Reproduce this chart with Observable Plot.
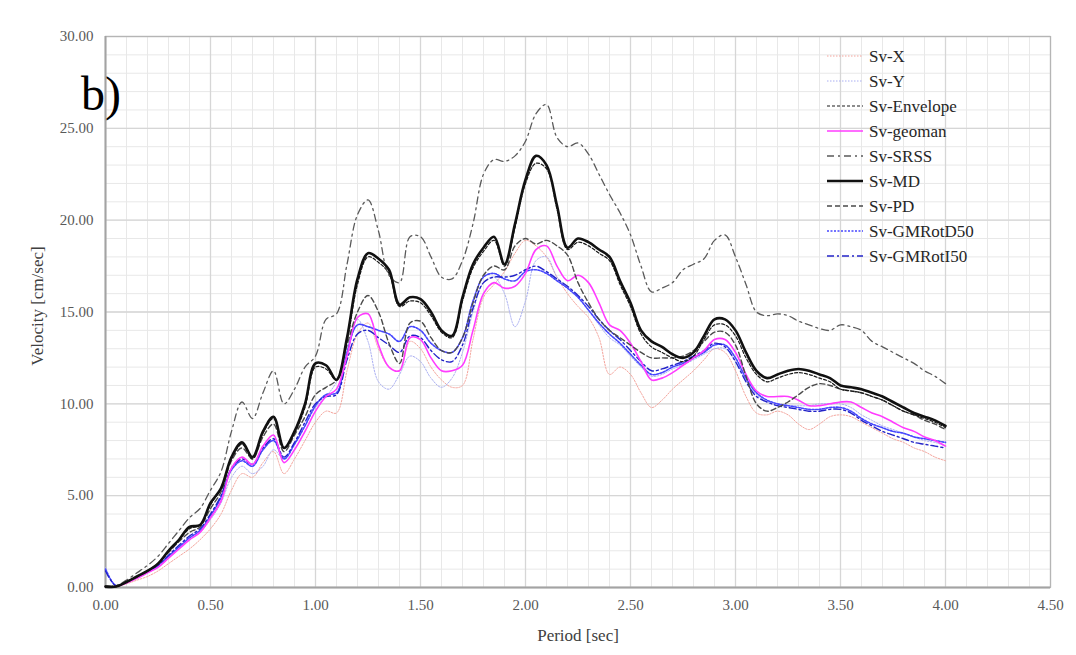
<!DOCTYPE html>
<html><head><meta charset="utf-8">
<script src="https://cdn.jsdelivr.net/npm/d3@7"></script>
<script src="https://cdn.jsdelivr.net/npm/@observablehq/plot@0.6"></script>
<style>
body{margin:0;background:#fff;}
#wrap{position:relative;width:1076px;height:655px;overflow:hidden;}
#overlay{position:absolute;left:0;top:0;pointer-events:none;}
</style></head><body><div id="wrap"></div>
<script>
// Periods (sec)
const period = [
 0.00,0.05,0.10,0.15,0.20,0.25,0.30,0.35,0.40,0.45,
 0.50,0.55,0.60,0.65,0.70,0.75,0.80,0.85,0.90,0.95,
 1.00,1.05,1.10,1.15,1.20,1.25,1.30,1.35,1.40,1.45,
 1.50,1.55,1.60,1.65,1.70,1.75,1.80,1.85,1.90,1.95,
 2.00,2.05,2.10,2.15,2.20,2.25,2.30,2.35,2.40,2.45,
 2.50,2.55,2.60,2.65,2.70,2.75,2.80,2.85,2.90,2.95,
 3.00,3.05,3.10,3.15,3.20,3.25,3.30,3.35,3.40,3.45,
 3.50,3.55,3.60,3.65,3.70,3.75,3.80,3.85,3.90,3.95,
 4.00];

const svX = [
 0.0,0.05,0.2,0.4,0.6,0.9,1.3,1.7,2.1,2.6,
 3.2,4.0,5.3,6.2,6.0,6.8,7.4,6.2,7.0,8.0,
 9.0,9.6,9.5,11.8,13.8,14.4,13.0,12.0,11.8,13.4,
 13.0,12.0,11.3,10.9,11.0,13.5,15.8,16.5,17.2,18.2,
 18.9,18.6,18.0,16.9,16.0,15.3,14.7,13.6,11.6,12.0,
 11.6,10.6,9.8,10.2,10.8,11.3,11.8,12.4,13.0,12.8,
 11.8,10.4,9.5,9.4,9.6,9.4,8.9,8.6,8.9,9.3,
 9.4,9.3,9.0,8.7,8.4,8.1,7.9,7.6,7.4,7.1,
 6.9];

const svY = [
 1.1,0.1,0.3,0.5,0.8,1.1,1.6,2.1,2.6,3.0,
 3.7,4.6,6.0,6.6,6.2,6.6,7.5,7.0,7.8,8.8,
 9.8,10.4,11.2,13.0,14.6,13.4,11.2,10.8,11.6,12.6,
 12.3,11.4,10.9,11.4,12.8,15.0,16.6,16.9,16.0,14.2,
 15.6,17.8,18.0,16.9,16.3,15.8,15.1,14.3,13.6,13.2,
 12.6,12.0,11.5,11.6,11.9,12.1,12.4,12.7,13.0,13.0,
 12.3,11.3,10.5,10.1,9.9,9.9,9.9,9.9,10.0,10.0,
 10.0,9.8,9.4,9.1,8.8,8.6,8.4,8.2,8.0,7.9,
 7.7];

const svEnvelope = [
 0.05,0.05,0.3,0.6,0.9,1.3,2.0,2.6,3.2,3.4,
 4.5,5.4,7.0,7.8,7.0,8.4,9.2,7.6,8.4,9.8,
 12.0,11.9,11.3,13.4,16.5,18.0,17.7,17.1,15.3,15.6,
 15.5,14.8,13.9,13.6,15.6,17.4,18.3,18.9,17.5,19.6,
 22.0,23.1,22.8,20.6,18.4,18.8,18.6,18.2,17.8,16.5,
 15.3,13.8,13.1,12.8,12.5,12.3,12.6,13.5,14.3,14.3,
 13.7,12.5,11.6,11.2,11.4,11.6,11.7,11.6,11.4,11.2,
 10.8,10.7,10.6,10.4,10.2,9.9,9.6,9.4,9.2,9.0,
 8.7];

const svGeoman = [
 0.05,0.05,0.25,0.5,0.8,1.1,1.6,2.1,2.6,3.0,
 3.8,4.7,6.5,7.1,6.7,7.7,8.3,6.8,7.5,8.5,
 9.6,10.4,10.8,12.6,14.7,14.9,13.2,12.0,11.8,13.6,
 13.5,12.5,11.8,11.8,12.1,14.0,16.0,16.6,16.3,16.4,
 17.1,18.4,18.6,17.5,16.7,17.0,16.6,15.5,14.3,14.0,
 13.3,12.3,11.3,11.4,11.7,12.1,12.5,12.9,13.5,13.5,
 12.8,11.6,10.7,10.4,10.4,10.4,10.2,9.9,9.9,10.0,
 10.1,10.1,9.8,9.5,9.3,9.0,8.7,8.5,8.2,8.0,
 7.7];

const svSRSS = [
 0.1,0.1,0.4,0.8,1.2,1.7,2.4,3.1,3.8,4.3,
 5.3,6.3,8.5,10.1,9.2,10.6,11.8,10.0,10.8,12.0,
 12.6,14.6,14.9,17.6,20.3,21.1,19.4,17.0,16.6,19.1,
 19.1,18.0,16.9,16.8,17.8,19.8,22.5,23.3,23.2,23.5,
 24.3,25.8,26.3,24.5,24.0,24.2,23.6,22.5,21.4,20.4,
 19.2,17.5,16.1,16.3,16.6,17.3,17.6,17.9,18.9,19.2,
 18.0,16.5,15.0,14.8,14.9,14.8,14.5,14.3,14.1,14.0,
 14.3,14.2,14.0,13.4,13.1,12.8,12.5,12.2,11.8,11.5,
 11.1];

const svMD = [
 0.05,0.05,0.3,0.6,0.9,1.3,2.0,2.6,3.3,3.4,
 4.6,5.4,7.1,7.9,7.1,8.5,9.3,7.6,8.5,10.0,
 12.2,12.1,11.3,13.6,16.8,18.2,17.9,17.3,15.4,15.8,
 15.7,15.0,14.0,13.7,15.8,17.6,18.5,19.1,17.6,19.8,
 22.2,23.5,23.0,20.8,18.5,19.0,18.8,18.4,18.0,16.7,
 15.5,14.0,13.4,13.1,12.7,12.5,12.8,13.7,14.6,14.6,
 14.0,12.8,11.8,11.4,11.6,11.8,11.9,11.8,11.6,11.4,
 11.0,10.9,10.8,10.6,10.4,10.1,9.8,9.5,9.3,9.1,
 8.8];

const svPD = [
 0.05,0.05,0.3,0.6,0.9,1.3,1.9,2.5,3.0,3.3,
 4.3,5.2,6.9,7.6,7.0,8.2,8.9,7.4,8.3,9.3,
 10.5,10.9,11.3,13.2,15.0,15.9,15.0,13.3,12.2,14.4,
 14.5,13.6,12.9,12.8,13.6,15.5,17.0,17.5,17.3,18.6,
 19.0,18.7,18.9,18.6,18.1,16.6,15.5,14.6,14.0,13.6,
 13.2,12.8,12.5,12.5,12.5,12.6,12.9,13.4,13.9,13.9,
 13.2,11.5,10.0,9.6,9.8,10.1,10.5,10.9,11.1,11.0,
 10.8,10.7,10.6,10.4,10.2,9.9,9.6,9.4,9.1,8.9,
 8.6];

const svGMRotD50 = [
 1.0,0.1,0.3,0.55,0.85,1.2,1.7,2.2,2.7,3.1,
 3.9,4.9,6.4,6.9,6.6,7.5,8.0,7.0,7.8,8.8,
 9.9,10.5,10.6,12.8,14.3,14.2,14.0,13.8,13.4,14.2,
 14.0,13.3,12.9,12.8,13.6,15.6,16.9,17.1,16.8,16.7,
 17.2,17.3,17.1,16.7,16.3,15.8,15.1,14.4,13.8,13.3,
 12.7,12.1,11.6,11.7,12.0,12.2,12.5,12.8,13.2,13.2,
 12.5,11.4,10.6,10.2,10.0,9.9,9.8,9.7,9.7,9.8,
 9.8,9.6,9.2,8.9,8.7,8.5,8.4,8.2,8.1,8.0,
 7.9];

const svGMRotI50 = [
 0.9,0.1,0.3,0.55,0.85,1.2,1.75,2.3,2.8,3.2,
 4.0,5.0,6.5,7.0,6.7,7.6,8.1,7.1,7.9,9.0,
 10.0,10.4,10.5,12.4,13.8,14.0,13.6,13.2,12.8,13.7,
 13.6,12.9,12.4,12.3,13.2,15.2,16.6,16.9,16.9,17.0,
 17.3,17.5,17.2,16.8,16.4,15.9,15.3,14.6,14.0,13.5,
 12.9,12.3,11.8,11.9,12.1,12.3,12.6,12.9,13.3,13.1,
 12.3,11.2,10.4,10.1,9.9,9.8,9.7,9.6,9.6,9.7,
 9.7,9.5,9.1,8.8,8.5,8.3,8.1,7.9,7.8,7.7,
 7.6];

const xTicks = [0,0.5,1,1.5,2,2.5,3,3.5,4,4.5];
const yTicks = [0,5,10,15,20,25,30];
const legendNames = ["Sv-X","Sv-Y","Sv-Envelope","Sv-geoman","Sv-SRSS","Sv-MD","Sv-PD","Sv-GMRotD50","Sv-GMRotI50"];

const styles = {
  "Sv-X":        {values: svX,        stroke:"#f4a49c", width:1,   dash:"1.5,1.5"},
  "Sv-Y":        {values: svY,        stroke:"#a9aef2", width:1,   dash:"1.5,1.5"},
  "Sv-Envelope": {values: svEnvelope, stroke:"#1a1a1a", width:1.2, dash:"3,2"},
  "Sv-geoman":   {values: svGeoman,   stroke:"#ff3cff", width:1.6, dash:null},
  "Sv-SRSS":     {values: svSRSS,     stroke:"#5a5a5a", width:1.3, dash:"7,4,2,4"},
  "Sv-MD":       {values: svMD,       stroke:"#111111", width:2.6, dash:null},
  "Sv-PD":       {values: svPD,       stroke:"#4a4a4a", width:1.4, dash:"5,3"},
  "Sv-GMRotD50": {values: svGMRotD50, stroke:"#4646ff", width:1.6, dash:"2,1.5"},
  "Sv-GMRotI50": {values: svGMRotI50, stroke:"#2323c8", width:1.4, dash:"7,3,2,3"}
};
const drawOrder = ["Sv-X","Sv-Y","Sv-GMRotD50","Sv-GMRotI50","Sv-geoman","Sv-PD","Sv-Envelope","Sv-SRSS","Sv-MD"];

const rows = legendNames.flatMap(name => period.map((p,i) => ({series:name, period:p, v:styles[name].values[i]})));

const xMinor = d3.range(0, 4.5001, 0.1);
const yMinor = d3.range(0, 30.001, 1);

const chart = Plot.plot({
  width: 1076, height: 655,
  marginLeft: 105, marginRight: 26, marginTop: 36, marginBottom: 68,
  style: {fontFamily: "Liberation Serif", fontSize: "15px", color: "#595959", background: "#fff"},
  x: {domain: [0, 4.5]},
  y: {domain: [0, 30]},
  marks: [
    Plot.gridX(xMinor, {stroke:"#e8e8e8", strokeOpacity:1}),
    Plot.gridY(yMinor, {stroke:"#e8e8e8", strokeOpacity:1}),
    Plot.gridX(xTicks, {stroke:"#d6d6d6", strokeOpacity:1, strokeWidth:1.3}),
    Plot.gridY(yTicks, {stroke:"#d6d6d6", strokeOpacity:1, strokeWidth:1.3}),
    Plot.frame({stroke:"#b5b5b5", strokeWidth:1.2}),
    Plot.ruleX([0], {stroke:"#a3a3a3", strokeWidth:2}),
    Plot.ruleY([0], {stroke:"#a3a3a3", strokeWidth:2}),
    ...drawOrder.map(name => Plot.line(rows.filter(r => r.series === name), {
      x:"period", y:"v", stroke: styles[name].stroke, strokeWidth: styles[name].width,
      strokeDasharray: styles[name].dash || undefined, curve:"catmull-rom"
    })),
    Plot.axisX(xTicks, {tickSize:0, tickPadding:12, tickFormat: d => d.toFixed(2), label:null, fontSize:15}),
    Plot.axisY(yTicks, {tickSize:0, tickPadding:12, tickFormat: d => d.toFixed(2), label:null, fontSize:15}),
    Plot.text(["Period [sec]"], {frameAnchor:"bottom", lineAnchor:"middle", textAnchor:"middle", dy:48, fontSize:17, fill:"#404040"}),
    Plot.text(["Velocity [cm/sec]"], {frameAnchor:"left", lineAnchor:"middle", textAnchor:"middle", rotate:-90, dx:-68, dy:-6, fontSize:17, fill:"#404040"})
  ]
});
const wrap = document.getElementById("wrap");
wrap.appendChild(chart);

// Overlay: panel label and legend
const ov = d3.select(wrap).append("svg").attr("id","overlay").attr("width",1076).attr("height",655)
  .style("font-family","Liberation Serif");
ov.append("text").attr("x",81).attr("y",110).attr("font-size",48).attr("fill","#000").text("b)");
const lg = ov.append("g");
legendNames.forEach((name, i) => {
  const y = 56 + i*25;
  const s = styles[name];
  lg.append("line").attr("x1",827).attr("x2",863).attr("y1",y).attr("y2",y)
    .attr("stroke",s.stroke).attr("stroke-width",s.width).attr("stroke-dasharray",s.dash);
  lg.append("text").attr("x",869).attr("y",y+5.5).attr("font-size",17).attr("fill","#262626").text(name);
});
</script></body></html>
